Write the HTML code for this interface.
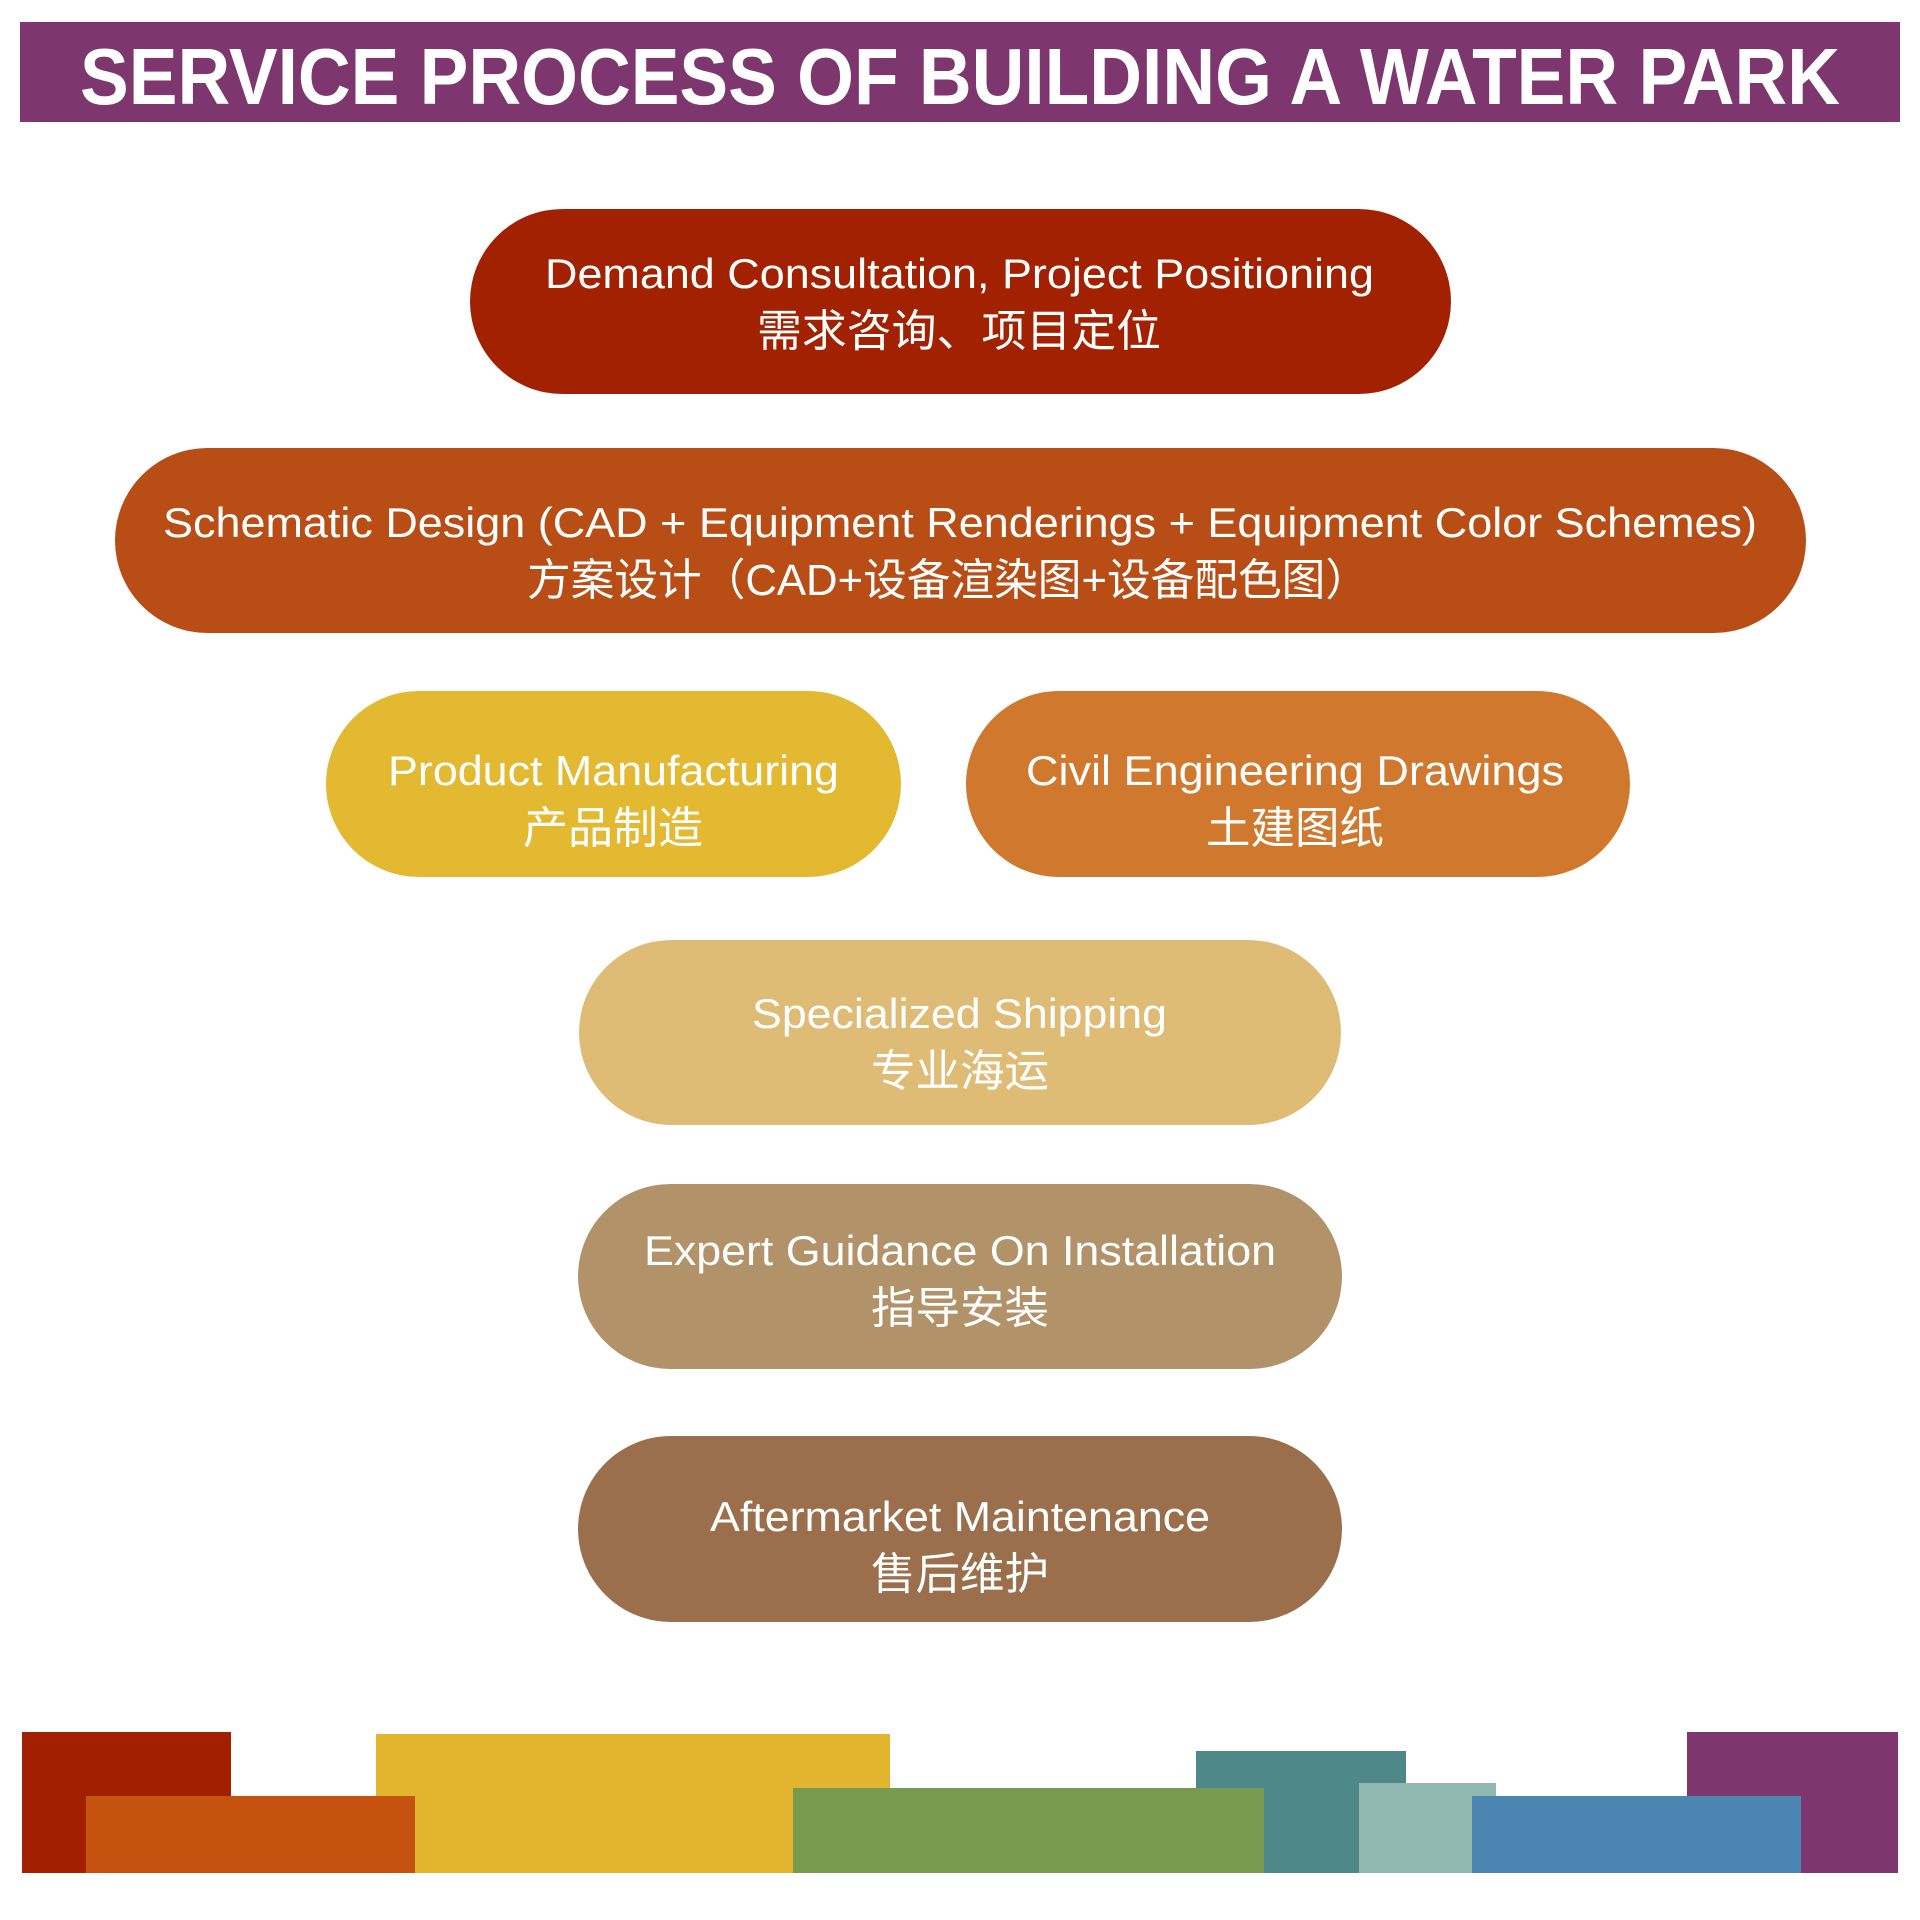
<!DOCTYPE html>
<html><head><meta charset="utf-8"><style>
html,body{margin:0;padding:0;background:#fff}
svg{display:block}
text{fill:#fff}
.e{font-family:"Liberation Sans","Noto Sans CJK SC",sans-serif;font-size:42px}
.c{font-family:"Liberation Sans","Noto Sans CJK SC",sans-serif;font-size:44px}
</style></head><body>
<svg width="1920" height="1920" viewBox="0 0 1920 1920" xmlns="http://www.w3.org/2000/svg">
<rect x="20" y="22" width="1880" height="100" fill="#7d376e"/>
<text x="80" y="104" textLength="1760" lengthAdjust="spacingAndGlyphs" style="font-family:'Liberation Sans',sans-serif;font-size:80px;font-weight:bold">SERVICE PROCESS OF BUILDING A WATER PARK</text>

<rect x="470" y="209" width="981" height="185" rx="92.5" fill="#a22100"/>
<text class="e" x="545" y="288" textLength="829" lengthAdjust="spacingAndGlyphs">Demand Consultation, Project Positioning</text>
<text class="c" x="757" y="346" textLength="404" lengthAdjust="spacingAndGlyphs">需求咨询、项目定位</text>

<rect x="115" y="448" width="1691" height="185" rx="92.5" fill="#b94d16"/>
<text class="e" x="163" y="537" textLength="1594" lengthAdjust="spacingAndGlyphs">Schematic Design (CAD + Equipment Renderings + Equipment Color Schemes)</text>
<text class="c" x="527" y="595" textLength="842" lengthAdjust="spacingAndGlyphs">方案设计（CAD+设备渲染图+设备配色图）</text>

<rect x="326" y="691" width="575" height="186" rx="93" fill="#e4b932"/>
<text class="e" x="388" y="785" textLength="451" lengthAdjust="spacingAndGlyphs">Product Manufacturing</text>
<text class="c" x="523" y="843" textLength="180" lengthAdjust="spacingAndGlyphs">产品制造</text>

<rect x="966" y="691" width="664" height="186" rx="93" fill="#d0782e"/>
<text class="e" x="1026" y="785" textLength="538" lengthAdjust="spacingAndGlyphs">Civil Engineering Drawings</text>
<text class="c" x="1206" y="843" textLength="178" lengthAdjust="spacingAndGlyphs">土建图纸</text>

<rect x="579" y="940" width="762" height="185" rx="92.5" fill="#debc76"/>
<text class="e" x="752" y="1028" textLength="415" lengthAdjust="spacingAndGlyphs">Specialized Shipping</text>
<text class="c" x="871" y="1086" textLength="178" lengthAdjust="spacingAndGlyphs">专业海运</text>

<rect x="578" y="1184" width="764" height="185" rx="92.5" fill="#b29369"/>
<text class="e" x="644" y="1265" textLength="632" lengthAdjust="spacingAndGlyphs">Expert Guidance On Installation</text>
<text class="c" x="871" y="1323" textLength="178" lengthAdjust="spacingAndGlyphs">指导安装</text>

<rect x="578" y="1436" width="764" height="186" rx="93" fill="#9c6f4c"/>
<text class="e" x="710" y="1531" textLength="500" lengthAdjust="spacingAndGlyphs">Aftermarket Maintenance</text>
<text class="c" x="871" y="1589" textLength="178" lengthAdjust="spacingAndGlyphs">售后维护</text>

<rect x="22" y="1732" width="209" height="141" fill="#a21f00"/>
<rect x="376" y="1734" width="514" height="139" fill="#e3b52e"/>
<rect x="1196" y="1751" width="210" height="122" fill="#4e8888"/>
<rect x="1687" y="1732" width="211" height="141" fill="#7d376e"/>
<rect x="86" y="1796" width="329" height="77" fill="#c5530f"/>
<rect x="793" y="1788" width="471" height="85" fill="#789a4f"/>
<rect x="1359" y="1783" width="137" height="90" fill="#91b8b0"/>
<rect x="1472" y="1796" width="329" height="77" fill="#4b86b2"/>
</svg>
</body></html>
